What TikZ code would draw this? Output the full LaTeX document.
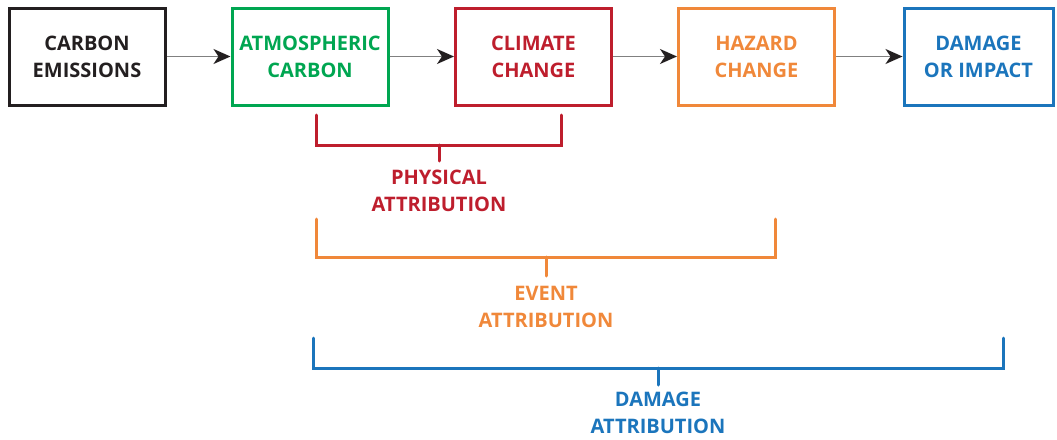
\documentclass[tikz,border=0pt]{standalone}
\usepackage{fontspec}
\setmainfont{Open Sans}
\usetikzlibrary{arrows.meta}
\definecolor{cblack}{HTML}{231F20}
\definecolor{cgreen}{HTML}{00A651}
\definecolor{cred}{HTML}{BE1E2D}
\definecolor{corange}{HTML}{F0883A}
\definecolor{cblue}{HTML}{1B75BC}
\definecolor{cgray}{HTML}{808080}
\tikzset{
  box/.style={draw, line width=3pt, minimum width=156pt, minimum height=97pt, inner sep=0pt, align=center,
    font=\fontsize{20}{27}\selectfont\bfseries},
  lbl/.style={align=center, inner sep=0pt, font=\fontsize{20}{27}\selectfont\bfseries},
  arr/.style={draw=cgray, line width=1.5pt, -{Stealth[length=17pt,width=15pt,inset=5pt,color=cblack]}},
  brk/.style={line width=3pt, line cap=round, line join=miter}
}
\begin{document}
\begin{tikzpicture}[x=1pt,y=-1pt]
\useasboundingbox (0,0) rectangle (1057,439);
% boxes
\node[box, draw=cblack, text=cblack] (b1) at (87,56.5) {CARBON\\EMISSIONS};
\node[box, draw=cgreen, text=cgreen] (b2) at (310,56.5) {ATMOSPHERIC\\CARBON};
\node[box, draw=cred, text=cred] (b3) at (533.5,56.5) {CLIMATE\\CHANGE};
\node[box, draw=corange, text=corange] (b4) at (756.5,56.5) {HAZARD\\CHANGE};
\node[box, draw=cblue, text=cblue, minimum width=149pt] (b5) at (978.5,56.5) {DAMAGE\\OR IMPACT};
% arrows
\draw[arr] (b1.east) -- (b2.west);
\draw[arr] (b2.east) -- (b3.west);
\draw[arr] (b3.east) -- (b4.west);
\draw[arr] (b4.east) -- (b5.west);
% labels
\node[lbl, text=cred] (l1) at (439,190.5) {PHYSICAL\\ATTRIBUTION};
\node[lbl, text=corange] (l2) at (546,306.5) {EVENT\\ATTRIBUTION};
\node[lbl, text=cblue] (l3) at (658,413) {DAMAGE\\ATTRIBUTION};
% brackets
\coordinate (p1a) at (316,115);
\coordinate (p1b) at (561,115);
\coordinate (p1s) at (439,161);
\draw[brk, draw=cred] (p1a) -- (316,145) -- (561,145) -- (p1b);
\draw[brk, draw=cred] (439,145) -- (p1s);
\coordinate (p2a) at (316,219);
\coordinate (p2b) at (775,219);
\coordinate (p2s) at (546,276);
\draw[brk, draw=corange] (p2a) -- (316,257) -- (775,257) -- (p2b);
\draw[brk, draw=corange] (546,257) -- (p2s);
\coordinate (p3a) at (313,338);
\coordinate (p3b) at (1003,338);
\coordinate (p3s) at (658,385);
\draw[brk, draw=cblue] (p3a) -- (313,368) -- (1003,368) -- (p3b);
\draw[brk, draw=cblue] (658,368) -- (p3s);
\end{tikzpicture}
\end{document}
